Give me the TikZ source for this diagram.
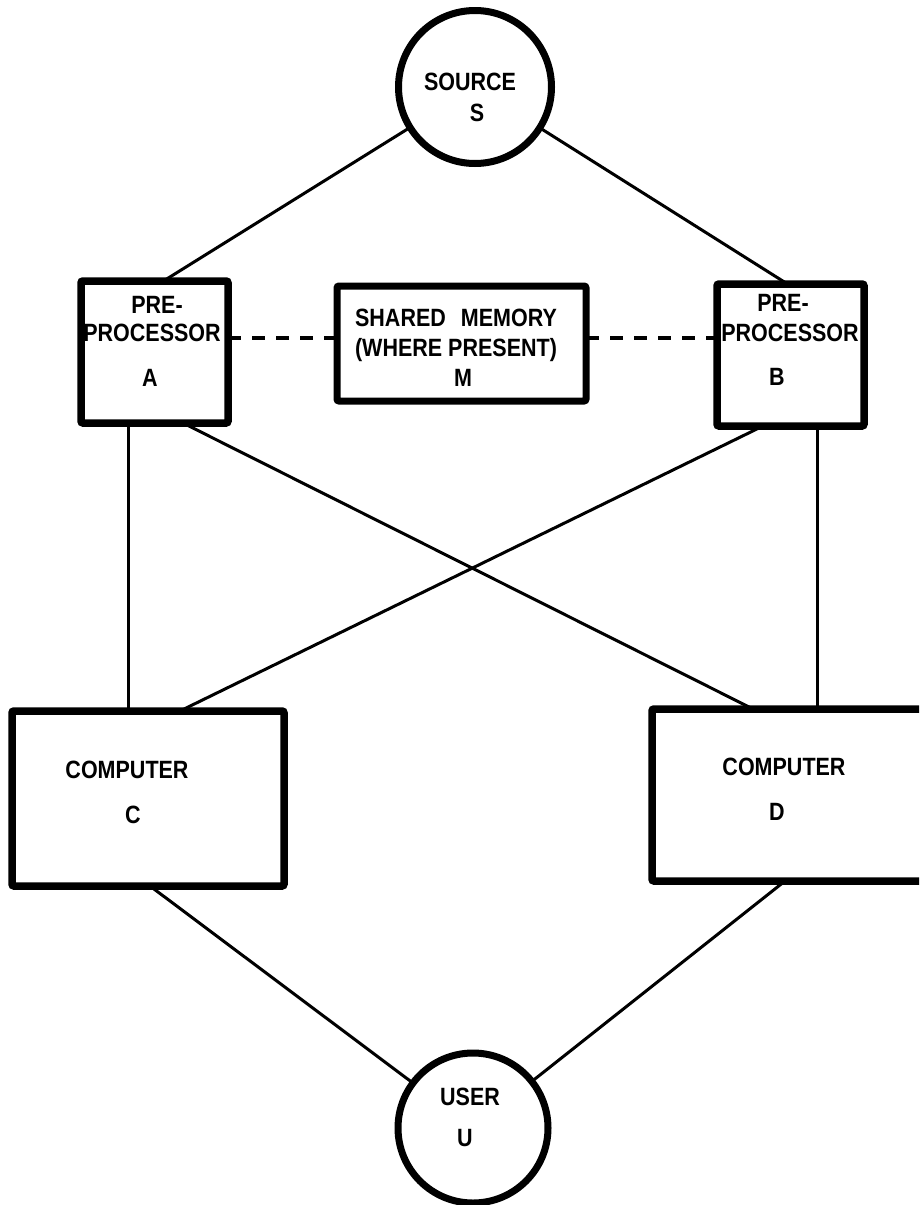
\documentclass[tikz,border=0pt]{standalone}
\usepackage{fontspec}
\usetikzlibrary{calc}
\newfontfamily\lblfont{Liberation Sans}[FakeStretch=0.86]
\tikzset{
  boxthick/.style={draw, line width=7.5pt, rectangle, inner sep=0pt, outer sep=0pt, rounded corners=2pt},
  circthick/.style={draw, line width=7pt, circle, inner sep=0pt, outer sep=0pt},
  wire/.style={line width=3pt},
  dashwire/.style={line width=4pt, dash pattern=on 13pt off 11pt},
  lbl/.style={font=\lblfont\bfseries\fontsize{25}{29}\selectfont, inner sep=0pt, anchor=center},
}
\begin{document}
\begin{tikzpicture}[x=1pt, y=-1pt]
\useasboundingbox (0,0) rectangle (919,1205);
\clip (0,0) rectangle (919,1205);

% terminals
\node[circthick, minimum size=153pt] (S) at (475,87) {};
\node[circthick, minimum size=150pt] (U) at (473,1128) {};

% processing boxes
\node[boxthick, minimum width=147pt, minimum height=142pt] (A) at (154.5,352) {};
\node[boxthick, line width=7pt, minimum width=249pt, minimum height=115pt] (M) at (461.5,343.5) {};
\node[boxthick, minimum width=147pt, minimum height=142pt] (B) at (790.5,355) {};
\node[boxthick, minimum width=272pt, minimum height=175pt] (C) at (148,798.5) {};
\node[boxthick, minimum width=278pt, minimum height=172pt] (D) at (791,795) {};

% labels
\node[lbl] (tS1) at (470,82) {SOURCE};
\node[lbl] (tS2) at (477,113) {S};
\node[lbl] (tA1) at (157,305) {PRE-};
\node[lbl] (tA2) at (152,333) {PROCESSOR};
\node[lbl] (tA3) at (150,378) {A};
\node[lbl] (tM1) at (456,318) {SHARED\hspace{0.6em}MEMORY};
\node[lbl] (tM2) at (456,350) {(WHERE PRESENT)};
\node[lbl] (tM3) at (463,378) {M};
\node[lbl] (tB1) at (783,303) {PRE-};
\node[lbl] (tB2) at (790,333) {PROCESSOR};
\node[lbl] (tB3) at (777,377) {B};
\node[lbl] (tC1) at (127,770) {COMPUTER};
\node[lbl] (tC2) at (133,815) {C};
\node[lbl] (tD1) at (784,767) {COMPUTER};
\node[lbl] (tD2) at (777,812) {D};
\node[lbl] (tU1) at (470,1097) {USER};
\node[lbl] (tU2) at (465,1138) {U};

% attachment points on box edges
\coordinate (a1) at ($(A.south west)+(47,0)$);
\coordinate (a2) at ($(A.south west)+(102,0)$);
\coordinate (b1) at ($(B.south west)+(46,0)$);
\coordinate (b2) at ($(B.south west)+(100,0)$);
\coordinate (c1) at ($(C.north west)+(168,0)$);
\coordinate (c2) at ($(C.south west)+(138,0)$);
\coordinate (d1) at ($(D.north west)+(101,0)$);
\coordinate (d2) at ($(D.south west)+(133,0)$);
\coordinate (m1) at ($(M.west)+(0,-6)$);
\coordinate (m2) at ($(M.east)+(0,-6)$);

% connectors
\draw[wire] (S) -- ($(A.north)+(9,0)$);
\draw[wire] (S) -- ($(B.north)+(-3,0)$);
\draw[wire] (a1) -- (a1 |- C.north);
\draw[wire] (a2) -- (d1);
\draw[wire] (b1) -- (c1);
\draw[wire] (b2) -- (b2 |- D.north);
\draw[wire] (c2) -- (U);
\draw[wire] (d2) -- (U);
\draw[dashwire] (m1 -| A.east) -- (m1);
\draw[dashwire] (m2) -- (m2 -| B.west);
\end{tikzpicture}
\end{document}
